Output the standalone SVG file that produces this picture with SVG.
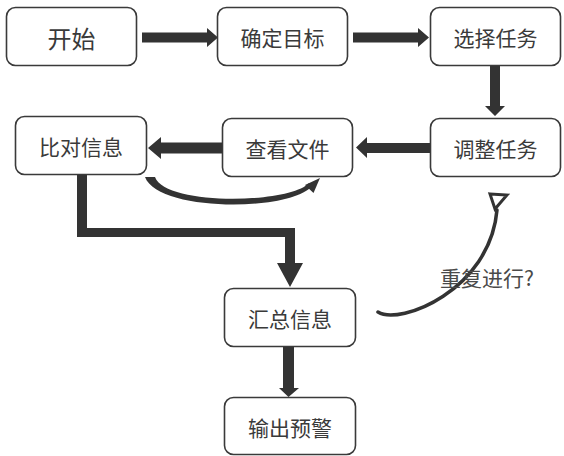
<svg xmlns="http://www.w3.org/2000/svg" width="564" height="456" viewBox="0 0 564 456">
<style>
.box{fill:#fff;stroke:#3a3a3a;stroke-width:1.6}
.t{font-family:"Noto Sans CJK SC","Noto Sans",sans-serif;font-size:21px;fill:#3a3a3a;text-anchor:middle;dominant-baseline:central}
.big{font-size:24px}
.a{fill:#333;stroke:none}
.c{fill:none;stroke:#333;stroke-width:3.5;stroke-linecap:round}
</style>
<rect width="564" height="456" fill="#fff"/>
<g id="connectors">
<polygon class="a" points="142,32.5 207,32.5 207,28 218,37.5 207,47 207,42.5 142,42.5"/>
<polygon class="a" points="353,32.5 418,32.5 418,28 429,37.5 418,47 418,42.5 353,42.5"/>
<polygon class="a" points="490,66 500,66 500,106 505,106 495,116 485,106 490,106"/>
<polygon class="a" points="430,143 367,143 367,137 356,147.5 367,158 367,153 430,153"/>
<polygon class="a" points="222,142.5 161,142.5 161,137 148,148 161,159 161,153.5 222,153.5"/>
<polygon class="a" points="77,175 87,175 87,228 295,228 295,263 303,263 290,287 277,263 285,263 285,237 77,237"/>
<polygon class="a" points="283,346 294,346 294,388 299,388 288.5,397 279,388 283,388"/>
<path class="a" d="M145,177 C158,212 290,212 312,186 L309,183 C290,204 165,206 155,177 Z"/>
<polygon class="a" points="320,178 313.5,193 305,185"/>
<path class="c" d="M378,312 C400,326 490,290 497,210"/>
<polygon points="490,194 507,195 495,209" fill="none" stroke="#333" stroke-width="3" stroke-linejoin="miter"/>
</g>
<g id="n1"><rect class="box" x="6.5" y="7.5" width="130" height="58" rx="9"/><text class="t big" x="71.5" y="37">开始</text></g>
<g id="n2"><rect class="box" x="217.5" y="7.5" width="130" height="58" rx="9"/><text class="t" x="282.5" y="37">确定目标</text></g>
<g id="n3"><rect class="box" x="430.5" y="7.5" width="130" height="58" rx="9"/><text class="t" x="495.5" y="37">选择任务</text></g>
<g id="n4"><rect class="box" x="430.5" y="118.5" width="130" height="58" rx="9"/><text class="t" x="495.5" y="148">调整任务</text></g>
<g id="n5"><rect class="box" x="222.5" y="118.5" width="130" height="58" rx="9"/><text class="t" x="287.5" y="148">查看文件</text></g>
<g id="n6"><rect class="box" x="15.5" y="116.5" width="131" height="58" rx="9"/><text class="t" x="81" y="146">比对信息</text></g>
<g id="n7"><rect class="box" x="224.5" y="288.5" width="131" height="58" rx="9"/><text class="t" x="290" y="318">汇总信息</text></g>
<g id="n8"><rect class="box" x="224.5" y="397.5" width="131" height="57" rx="9"/><text class="t" x="290" y="427">输出预警</text></g>
<g id="label"><text class="t" x="487" y="277" style="fill:#4a4a4a">重复进行?</text></g>
</svg>
